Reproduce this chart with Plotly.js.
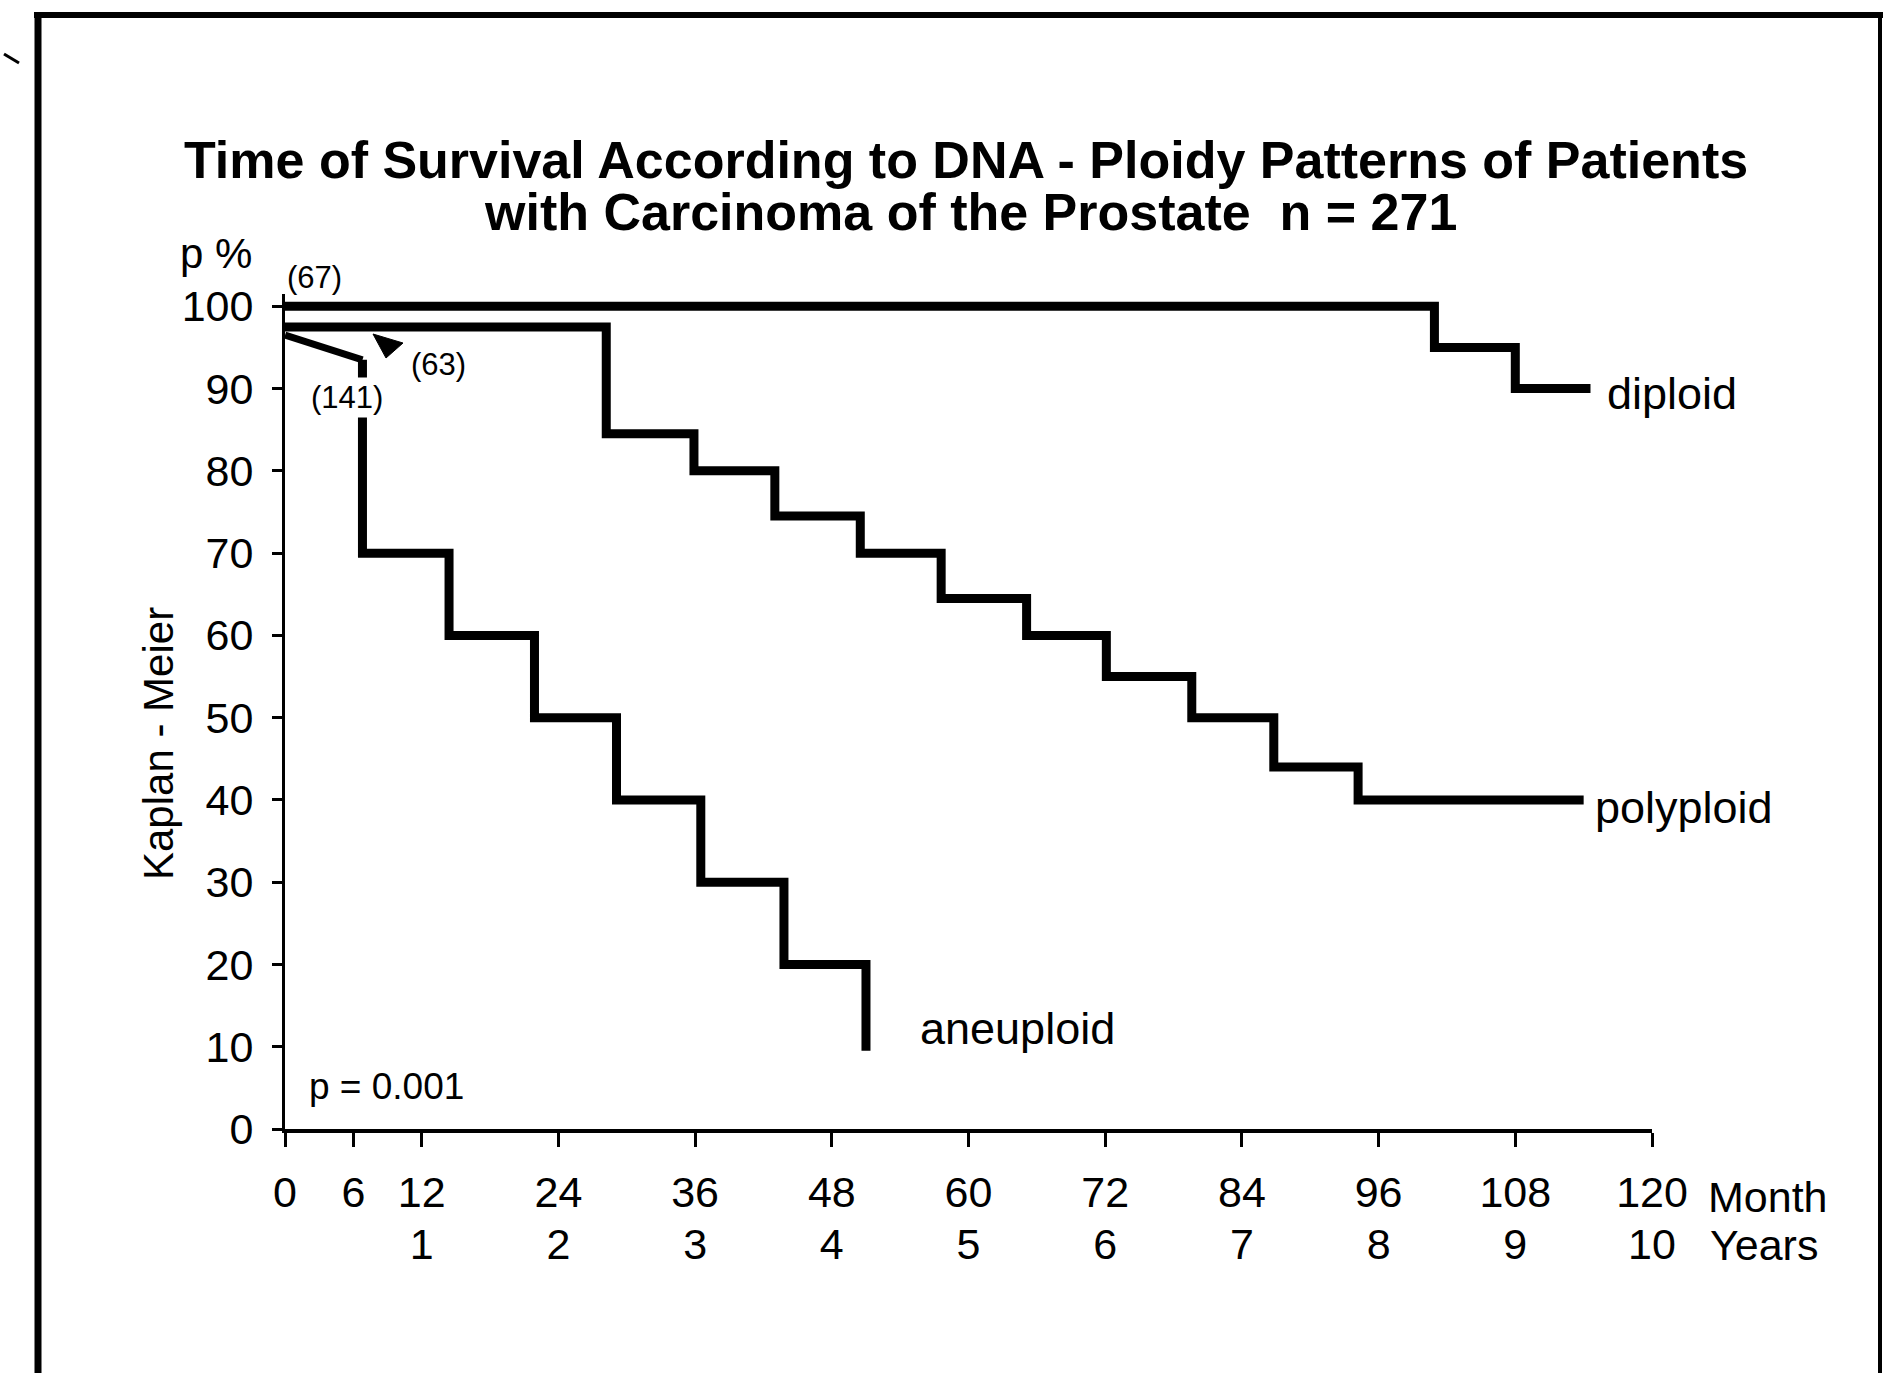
<!DOCTYPE html>
<html><head><meta charset="utf-8">
<script src="https://cdn.plot.ly/plotly-3.0.1.min.js"></script>
<style>html,body{margin:0;padding:0;background:#fff}</style>
</head><body><div id="chart" style="width:1896px;height:1373px"></div>
<script>
// ---- data (months, Kaplan-Meier survival %) ----
const diploidMonths = [0, 100.9, 108, 114.6];
const diploidSurvival = [100, 95, 90, 90];
const polyploidMonths = [0, 28.2, 35.9, 43, 50.5, 57.6, 65.1, 72.1, 79.6, 86.8, 94.2, 114];
const polyploidSurvival = [97.5, 84.5, 80, 74.5, 70, 64.5, 60, 55, 50, 44, 40, 40];
const aneuploidEarlyMonths = [0, 6.8];
const aneuploidEarlySurvival = [96.5, 93.5];
const aneuploidMonths = [6.8, 14.4, 21.9, 29.1, 36.5, 43.8, 51, 51];
const aneuploidSurvival = [93.5, 70, 60, 50, 40, 30, 20, 9.5];

const monthTicks = [0, 6, 12, 24, 36, 48, 60, 72, 84, 96, 108, 120];
const monthLabels = ['0', '6', '12', '24', '36', '48', '60', '72', '84', '96', '108', '120'];
const yearTicks = [12, 24, 36, 48, 60, 72, 84, 96, 108, 120];
const yearLabels = ['1', '2', '3', '4', '5', '6', '7', '8', '9', '10'];
const yTicks = [0, 10, 20, 30, 40, 50, 60, 70, 80, 90, 100];
const yLabels = ['0', '10', '20', '30', '40', '50', '60', '70', '80', '90', '100'];

const titleLine1 = 'Time of Survival According to DNA - Ploidy Patterns of Patients';
const titleLine2 = 'with Carcinoma of the Prostate\u00a0\u00a0n = 271';

// ---- layout geometry (pixels) ----
const FW = 1896, FH = 1373;
const L = 285, R = 1652, T = 294, B = 1129;
const fx = p => (p - L) / (R - L);
const fy = p => (B - p) / (B - T);
const FONT = 'Liberation Sans, Arial, Helvetica, sans-serif';

function ann(text, xp, yp, size, xa, ya, extra) {
  return Object.assign({
    text: text, xref: 'paper', yref: 'paper', x: fx(xp), y: fy(yp),
    xanchor: xa, yanchor: ya, showarrow: false, borderpad: 0,
    font: {family: FONT, size: size, color: '#000'}
  }, extra || {});
}

// small filled pointer triangle (decoration), built from pixel positions
function triPath(pts) {
  return pts.map((p, i) => (i ? 'L' : 'M') + fx(p[0]) + ',' + fy(p[1])).join(' ') + ' Z';
}

const lineStyle = w => ({color: '#000', width: w});

const traces = [
  {x: diploidMonths, y: diploidSurvival, xaxis: 'x2', yaxis: 'y', mode: 'lines',
   line: Object.assign(lineStyle(9), {shape: 'hv'}), hoverinfo: 'skip', showlegend: false},
  {x: polyploidMonths, y: polyploidSurvival, mode: 'lines',
   line: Object.assign(lineStyle(9), {shape: 'hv'}), hoverinfo: 'skip', showlegend: false},
  {x: aneuploidEarlyMonths, y: aneuploidEarlySurvival, mode: 'lines',
   line: Object.assign(lineStyle(7), {shape: 'linear'}), hoverinfo: 'skip', showlegend: false},
  {x: aneuploidMonths, y: aneuploidSurvival, mode: 'lines',
   line: Object.assign(lineStyle(9), {shape: 'vh'}), hoverinfo: 'skip', showlegend: false}
];

const tickFont = {family: FONT, size: 43, color: '#000'};

const layout = {
  width: FW, height: FH,
  margin: {l: L, r: FW - R, t: T, b: FH - B, pad: 0},
  paper_bgcolor: '#fff', plot_bgcolor: '#fff',
  showlegend: false,
  xaxis: {
    range: [0, 120], tickmode: 'array', tickvals: monthTicks, ticktext: monthLabels,
    ticks: 'outside', ticklen: 14, tickwidth: 3, tickcolor: '#000',
    showline: true, linewidth: 4, linecolor: '#000', mirror: false,
    showgrid: false, zeroline: false, tickfont: tickFont, ticklabelstandoff: 8,
    fixedrange: true
  },
  xaxis2: {
    overlaying: 'x', anchor: 'y', side: 'bottom',
    range: [0, 120], tickmode: 'array', tickvals: yearTicks, ticktext: yearLabels,
    ticks: '', ticklen: 0, showline: false, showgrid: false, zeroline: false,
    tickfont: tickFont, ticklabelstandoff: 86, fixedrange: true
  },
  yaxis: {
    range: [0, 101.5], tickmode: 'array', tickvals: yTicks, ticktext: yLabels,
    ticks: 'outside', ticklen: 10, tickwidth: 3, tickcolor: '#000',
    showline: true, linewidth: 3, linecolor: '#000',
    showgrid: false, zeroline: false, tickfont: tickFont, ticklabelstandoff: 10,
    fixedrange: true
  },
  annotations: [
    ann('<b>' + titleLine1 + '</b>', 966, 160, 52, 'center', 'middle'),
    ann('<b>' + titleLine2 + '</b>', 970, 212, 52, 'center', 'middle'),
    ann('p %', 179, 253, 42, 'left', 'middle'),
    ann('Kaplan - Meier', 158, 744, 42, 'center', 'middle', {textangle: -90}),
    ann('(67)', 314, 278, 31, 'center', 'middle'),
    ann('(63)', 438, 364, 31, 'center', 'middle'),
    ann('(141)', 347, 397, 31, 'center', 'middle', {bgcolor: '#fff', borderpad: 2}),
    ann('diploid', 1606, 393, 45, 'left', 'middle'),
    ann('polyploid', 1594, 807, 45, 'left', 'middle'),
    ann('aneuploid', 919, 1028, 45, 'left', 'middle'),
    ann('p = 0.001', 308, 1086, 37, 'left', 'middle'),
    ann('Month', 1707, 1197, 43, 'left', 'middle'),
    ann('Years', 1709, 1245, 43, 'left', 'middle')
  ],
  shapes: [
    {type: 'line', xref: 'paper', yref: 'paper', x0: fx(34), x1: fx(1883), y0: fy(15), y1: fy(15),
     line: {color: '#000', width: 6}},
    {type: 'line', xref: 'paper', yref: 'paper', x0: fx(38), x1: fx(38), y0: fy(12), y1: fy(FH),
     line: {color: '#000', width: 7}},
    {type: 'line', xref: 'paper', yref: 'paper', x0: fx(1880), x1: fx(1880), y0: fy(12), y1: fy(FH),
     line: {color: '#000', width: 4}},
    {type: 'line', xref: 'paper', yref: 'paper', x0: fx(4), x1: fx(19), y0: fy(54), y1: fy(63),
     line: {color: '#000', width: 3}},
    {type: 'path', xref: 'paper', yref: 'paper',
     path: triPath([[373, 334], [403, 343], [386, 358]]),
     fillcolor: '#000', line: {color: '#000', width: 1}}
  ]
};

Plotly.newPlot('chart', traces, layout, {displayModeBar: false, staticPlot: true});
</script>
</body></html>
